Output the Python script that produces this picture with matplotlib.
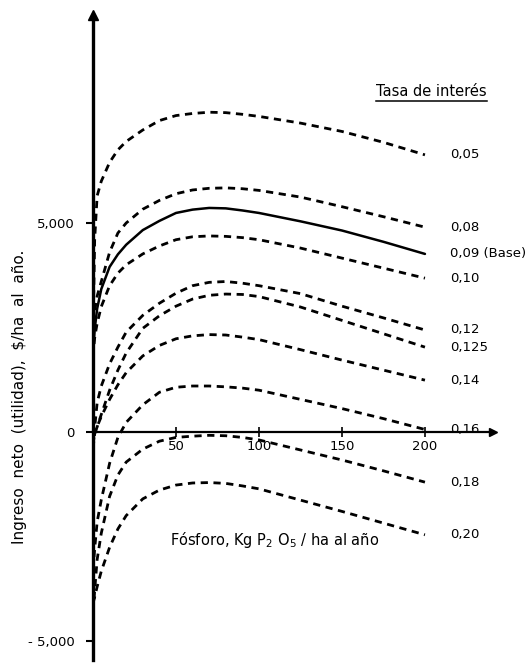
import matplotlib
matplotlib.use("Agg")
import matplotlib.pyplot as plt
from matplotlib.lines import Line2D

# fosforo, kg P2O5 / ha al año
fosforo = [0, 1, 2.5, 5, 10, 15, 20, 30, 40, 50, 60, 70, 80, 90, 100, 125, 150, 175, 200]

# ingreso neto, $/ha al año, one list per tasa de interes
ingreso_005 = [2300, 4600, 5650, 6000, 6450, 6750, 6950, 7225, 7450, 7570, 7620, 7650, 7640, 7600, 7550, 7390, 7190, 6930, 6630]
ingreso_008 = [2000, 2900, 3250, 3600, 4300, 4760, 5000, 5330, 5540, 5700, 5790, 5830, 5840, 5820, 5780, 5620, 5390, 5150, 4900]
ingreso_009 = [1900, 2450, 2950, 3420, 3950, 4250, 4480, 4830, 5050, 5240, 5320, 5360, 5350, 5300, 5240, 5040, 4820, 4550, 4260]
ingreso_010 = [1800, 2250, 2600, 3000, 3500, 3800, 4000, 4260, 4450, 4600, 4670, 4690, 4680, 4650, 4600, 4400, 4160, 3920, 3680]
ingreso_012 = [-100, 100, 700, 1100, 1630, 2030, 2390, 2790, 3080, 3320, 3500, 3580, 3600, 3560, 3500, 3310, 3010, 2730, 2440]
ingreso_0125 = [-300, -30, 120, 420, 1000, 1480, 1890, 2480, 2780, 3010, 3180, 3270, 3300, 3290, 3240, 2990, 2670, 2350, 2030]
ingreso_014 = [-400, -50, 130, 370, 780, 1130, 1420, 1820, 2070, 2230, 2300, 2330, 2320, 2270, 2210, 1970, 1720, 1480, 1240]
ingreso_016 = [-3300, -2800, -2150, -1620, -750, -130, 230, 650, 950, 1070, 1100, 1100, 1080, 1050, 1000, 780, 560, 320, 60]
ingreso_018 = [-4300, -3800, -3050, -2420, -1540, -1030, -720, -410, -220, -130, -100, -80, -90, -130, -190, -430, -670, -930, -1200]
ingreso_020 = [-4100, -3950, -3700, -3330, -2760, -2320, -2000, -1600, -1390, -1270, -1220, -1210, -1230, -1290, -1360, -1630, -1900, -2180, -2460]

curvas = [ingreso_005, ingreso_008, ingreso_009, ingreso_010, ingreso_012,
          ingreso_0125, ingreso_014, ingreso_016, ingreso_018, ingreso_020]
tasas = ["0,05", "0,08", "0,09 (Base)", "0,10", "0,12", "0,125", "0,14", "0,16", "0,18", "0,20"]
base = "0,09 (Base)"

x_ticks = [50, 100, 150, 200]
y_ticks = [-5000, 0, 5000]
y_tick_labels = ["- 5,000", "0", "5,000"]

W, H = 532, 667
fig = plt.figure(figsize=(W / 100, H / 100), dpi=100)
ax = fig.add_axes([93 / W, 7 / H, 400 / W, 645 / H])
ax.set_xlim(0, 241)
ax.set_ylim(-5455, 9976)

for s in ["top", "right"]:
    ax.spines[s].set_visible(False)
ax.spines["left"].set_position(("data", 0))
ax.spines["bottom"].set_position(("data", 0))
ax.spines["left"].set_linewidth(2.4)
ax.spines["bottom"].set_linewidth(1.6)

# arrow heads on the axes
ax.plot(0, 1, marker="^", color="k", ms=7, transform=ax.get_xaxis_transform(), clip_on=False)
ax.plot(1, 0, marker=">", color="k", ms=6, transform=ax.get_yaxis_transform(), clip_on=False)

ax.set_xticks(x_ticks)
ax.set_xticklabels([str(t) for t in x_ticks])
ax.set_yticks(y_ticks)
ax.set_yticklabels(y_tick_labels)
ax.tick_params(axis="x", direction="inout", length=7, width=1.2, pad=2, labelsize=9.5)
ax.tick_params(axis="y", direction="out", length=5, width=1.5, pad=8, labelsize=9.5)

for vals, tasa in zip(curvas, tasas):
    if tasa == base:
        ax.plot(fosforo, vals, color="k", lw=1.8, solid_capstyle="round")
    else:
        ax.plot(fosforo, vals, color="k", lw=2.0, ls=(0, (2.6, 2.0)))
    ax.text(215, vals[-1], tasa, ha="left", va="center", fontsize=9.5)

titulo = ax.text(204, 8134, "Tasa de interés", ha="center", va="center", fontsize=10.5)
ax.text(46.4, -2584, r"Fósforo, Kg P$_2$ O$_5$ / ha al año", ha="left", va="center", fontsize=10.5)
fig.text(20 / W, 1 - 397 / H, "Ingreso  neto  (utilidad),  $/ha  al  año.",
         rotation=90, ha="center", va="center", fontsize=11)

# underline the legend heading
fig.canvas.draw()
bb = titulo.get_window_extent()
fig.add_artist(Line2D([bb.x0 / W, bb.x1 / W], [(bb.y0 - 2) / H] * 2,
                      transform=fig.transFigure, color="k", lw=1.1))

fig.savefig("out.png", dpi=100)
